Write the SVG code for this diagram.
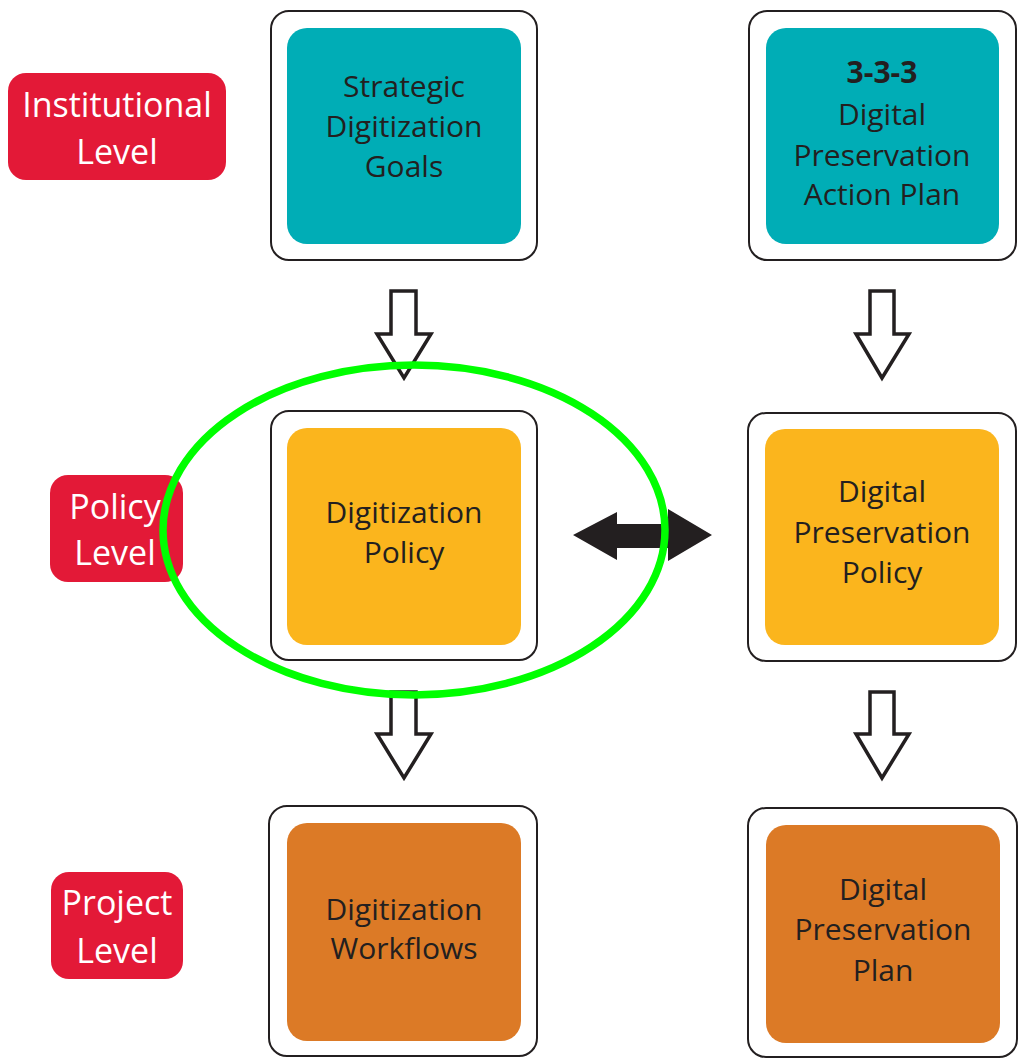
<svg xmlns="http://www.w3.org/2000/svg" width="1019" height="1061" viewBox="0 0 1019 1061">
<style>
.frame{fill:#ffffff;stroke:#231f20;stroke-width:2}
.teal{fill:#00adb6}
.gold{fill:#fbb51d}
.orange{fill:#dc7a26}
.lvl{fill:#e31937}
.t{font-family:"Open Sans","Liberation Sans",sans-serif;font-size:30px;fill:#231f20;text-anchor:middle}
.b{font-weight:bold}
.lt{font-family:"Open Sans","Liberation Sans",sans-serif;font-size:34px;fill:#ffffff;text-anchor:middle}
.hollow{fill:#ffffff;stroke:#231f20;stroke-width:3.5;stroke-linejoin:miter}
</style>
<rect width="1019" height="1061" fill="#ffffff"/>
<g id="level-institutional">
<rect class="lvl" x="8" y="73" width="218" height="107" rx="18"/>
<text class="lt" x="117" y="117">Institutional</text>
<text class="lt" x="117" y="164">Level</text>
</g>
<g id="level-policy">
<rect class="lvl" x="50" y="475" width="133" height="107" rx="18"/>
<text class="lt" x="115" y="519">Policy</text>
<text class="lt" x="115" y="565">Level</text>
</g>
<g id="level-project">
<rect class="lvl" x="51" y="872" width="132" height="107" rx="18"/>
<text class="lt" x="117" y="915">Project</text>
<text class="lt" x="117" y="963">Level</text>
</g>
<g id="strategic-goals">
<rect class="frame" x="271" y="11" width="266" height="249" rx="18"/>
<rect class="teal" x="287" y="28" width="234" height="216" rx="20"/>
<text class="t" x="404" y="97">Strategic</text>
<text class="t" x="404" y="137">Digitization</text>
<text class="t" x="404" y="177">Goals</text>
</g>
<g id="action-plan">
<rect class="frame" x="749" y="11" width="267" height="249" rx="18"/>
<rect class="teal" x="766" y="28" width="233" height="216" rx="20"/>
<text class="t b" x="882" y="83">3-3-3</text>
<text class="t" x="882" y="125">Digital</text>
<text class="t" x="882" y="166">Preservation</text>
<text class="t" x="882" y="205">Action Plan</text>
</g>
<g id="digitization-policy">
<rect class="frame" x="271" y="411" width="266" height="249" rx="18"/>
<rect class="gold" x="287" y="428" width="234" height="217" rx="20"/>
<text class="t" x="404" y="523">Digitization</text>
<text class="t" x="404" y="563">Policy</text>
</g>
<g id="preservation-policy">
<rect class="frame" x="748" y="413" width="268" height="248" rx="18"/>
<rect class="gold" x="765" y="429" width="234" height="216" rx="20"/>
<text class="t" x="882" y="502">Digital</text>
<text class="t" x="882" y="543">Preservation</text>
<text class="t" x="882" y="583">Policy</text>
</g>
<g id="digitization-workflows">
<rect class="frame" x="269" y="806" width="268" height="250" rx="18"/>
<rect class="orange" x="287" y="823" width="234" height="218" rx="20"/>
<text class="t" x="404" y="920">Digitization</text>
<text class="t" x="404" y="959">Workflows</text>
</g>
<g id="preservation-plan">
<rect class="frame" x="748" y="808" width="269" height="249" rx="18"/>
<rect class="orange" x="766" y="825" width="234" height="218" rx="20"/>
<text class="t" x="883" y="900">Digital</text>
<text class="t" x="883" y="940">Preservation</text>
<text class="t" x="883" y="981">Plan</text>
</g>
<g id="connectors">
<path class="hollow" d="M391,291 H416 V334 H431 L404,378 L377,334 H391 Z"/>
<path class="hollow" d="M870,291 H894 V334 H909 L882,378 L856,334 H870 Z"/>
<path class="hollow" d="M391,692 H416 V734 H431 L404,778 L377,734 H391 Z"/>
<path class="hollow" d="M870,692 H894 V734 H909 L882,778 L856,734 H870 Z"/>
<path fill="#231f20" d="M573,535 L617,512 V524 H668 V509 L712,535 L668,561 V548 H617 V560 Z"/>
</g>
<g id="highlight">
<ellipse cx="414" cy="530" rx="251" ry="165" fill="none" stroke="#00ff00" stroke-width="7.5"/>
</g>
</svg>
